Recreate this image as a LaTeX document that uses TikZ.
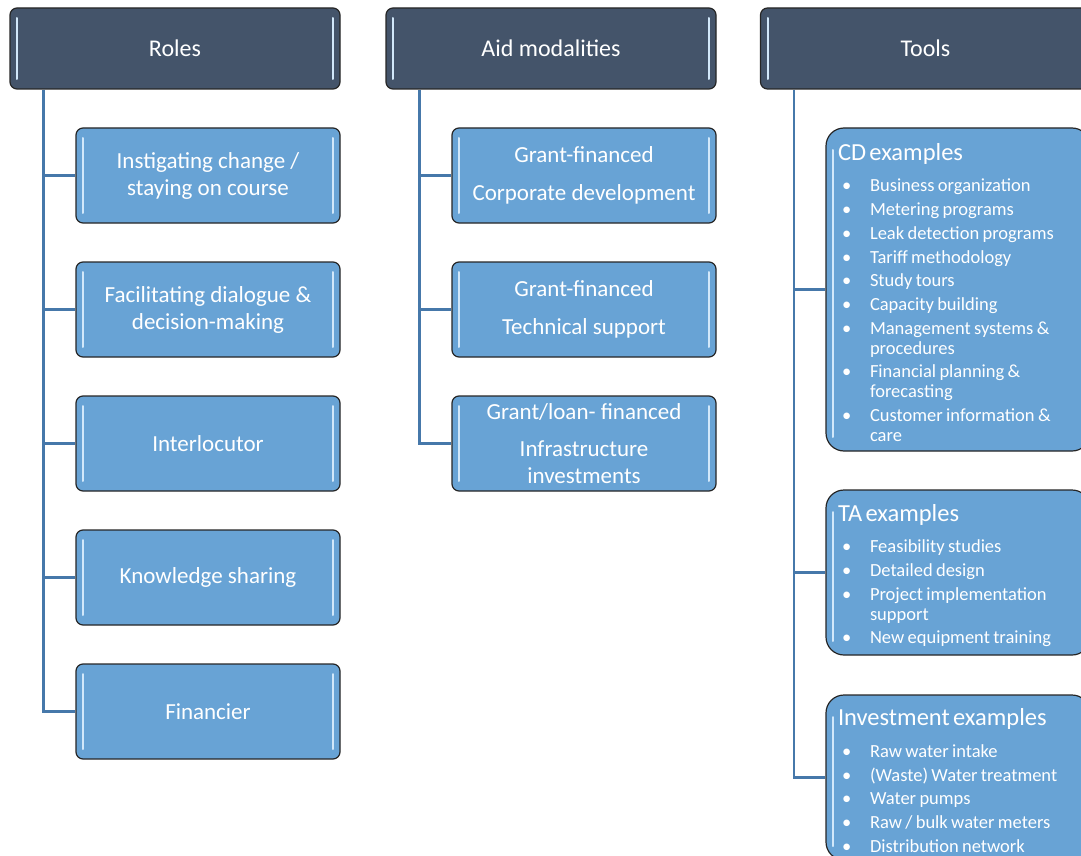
\documentclass[tikz,border=0pt]{standalone}
\usepackage{fontspec}
\setmainfont{Carlito}
\usetikzlibrary{positioning}

\definecolor{headfill}{RGB}{68,84,106}
\definecolor{boxfill}{RGB}{104,163,213}
\definecolor{linkblue}{RGB}{70,120,170}
\definecolor{rim}{RGB}{38,38,38}
\definecolor{glint}{RGB}{210,232,250}

\newcommand\exitem[1]{\par\hangindent=32pt\hangafter=1\noindent\hspace*{4pt}\makebox[28pt][l]{\textbullet}#1}

\tikzset{
  glare/.style={path picture={
    \draw[glint, line width=2pt, line cap=round]
      ([shift={(7pt,-10pt)}]path picture bounding box.north west) -- ([shift={(7pt,10pt)}]path picture bounding box.south west)
      ([shift={(-7pt,-10pt)}]path picture bounding box.north east) -- ([shift={(-7pt,10pt)}]path picture bounding box.south east);}},
  head/.style={draw=rim, line width=1.2pt, fill=headfill, rounded corners=7pt, glare,
    minimum width=330pt, minimum height=81pt, text=white, font=\fontsize{24}{29}\selectfont},
  role/.style={draw=rim, line width=1.2pt, fill=boxfill, rounded corners=7pt, glare,
    minimum width=264pt, minimum height=95pt, text=white, align=center,
    font=\fontsize{23}{27}\selectfont},
  toolbox/.style={draw=rim, line width=1.2pt, fill=boxfill, rounded corners=18pt,
    minimum width=264pt, text width=240pt, inner xsep=12pt, text=white,
    path picture={\draw[glint, line width=2pt, line cap=round]
      ([shift={(7pt,-22pt)}]path picture bounding box.north west) -- ([shift={(7pt,14pt)}]path picture bounding box.south west);}},
  link/.style={draw=linkblue, line width=2.2pt},
}

\newcommand\toolhead[1]{{\fontsize{24.5}{29}\selectfont\rule{0pt}{23pt}#1\par}\vspace{8pt}\fontsize{18.5}{20}\selectfont\parskip=3.7pt\raggedright}

\begin{document}
\begin{tikzpicture}[x=1pt, y=-1pt]
    \useasboundingbox (0,0) rectangle (1081,856);

    \node[head] at (175, 48.5)(roles){Roles};
    \node[head] at (551, 48.5)(aid){Aid modalities};
    \node[head] at (925.5, 48.5)(tools){Tools};

    \node[role] at (208, 175.5)(r1){Instigating change /\\staying on course};
    \node[role] at (208, 309.5)(r2){Facilitating dialogue \&\\decision-making};
    \node[role] at (208, 443.5)(r3){Interlocutor};
    \node[role] at (208, 577.5)(r4){Knowledge sharing};
    \node[role] at (208, 711.5)(r5){Financier};

    \node[role] at (584, 175.5)(m1){Grant-financed\\[11pt]Corporate development};
    \node[role] at (584, 309.5)(m2){Grant-financed\\[11pt]Technical support};
    \node[role] at (584, 443.5)(m3){Grant/loan- financed\\[10pt]Infrastructure\\investments};

    \node[toolbox, minimum height=323pt] at (958, 289.5)(cd){\toolhead{CD examples}
        \exitem{Business organization}
        \exitem{Metering programs}
        \exitem{Leak detection programs}
        \exitem{Tariff methodology}
        \exitem{Study tours}
        \exitem{Capacity building}
        \exitem{Management systems \&\newline procedures}
        \exitem{Financial planning \&\newline forecasting}
        \exitem{Customer information \&\newline care}\par};
    \node[toolbox, minimum height=165pt] at (958, 572.5)(ta){\toolhead{TA examples}
        \exitem{Feasibility studies}
        \exitem{Detailed design}
        \exitem{Project implementation\newline support}
        \exitem{New equipment training}\par};
    \node[toolbox, minimum height=165pt] at (958, 777.5)(inv){\toolhead{Investment examples}
        \exitem{Raw water intake}
        \exitem{(Waste) Water treatment}
        \exitem{Water pumps}
        \exitem{Raw / bulk water meters}
        \exitem{Distribution network}\par};

    \foreach \n in {r1,r2,r3,r4,r5}
        \draw[link] ([xshift=34pt]roles.south west) |- (\n.west);
    \foreach \n in {m1,m2,m3}
        \draw[link] ([xshift=34pt]aid.south west) |- (\n.west);
    \foreach \n in {cd,ta,inv}
        \draw[link] ([xshift=34pt]tools.south west) |- (\n.west);
\end{tikzpicture}
\end{document}
